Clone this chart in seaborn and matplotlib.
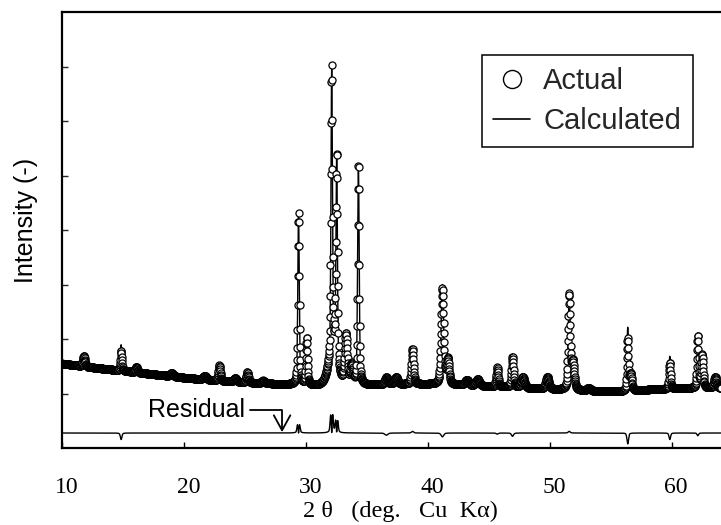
import numpy as np
import pandas as pd
import matplotlib
matplotlib.use("Agg")
import matplotlib.pyplot as plt
import matplotlib.transforms as mtransforms
import seaborn as sns
from matplotlib.lines import Line2D

# ---------------- data (intensity in kcounts) ----------------
bg_x = [10, 12, 14, 16, 18, 20, 22, 24, 26, 28, 30, 31, 35, 38, 40, 42, 44, 46, 48,
        50, 52, 54, 56, 58, 60, 62, 64.05]
bg_y = [1.55, 1.49, 1.44, 1.39, 1.34, 1.29, 1.25, 1.21, 1.19, 1.17, 1.15, 1.13, 1.15,
        1.17, 1.17, 1.16, 1.14, 1.12, 1.10, 1.08, 1.06, 1.04, 1.04, 1.07, 1.09, 1.10, 1.10]

peak_pos = [11.8, 14.85, 16.1, 19.0, 21.7, 22.9, 24.2, 25.2, 26.5, 29.4, 30.07,
            32.2, 32.12, 32.53, 33.29, 33.76, 34.31, 36.6, 37.4, 38.75, 41.2, 41.65,
            43.2, 44.1, 45.7, 46.95, 47.8, 49.8, 51.6, 51.9, 53.2, 56.4, 56.65,
            59.85, 62.15, 62.5, 63.57]
obs_height = [0.20, 0.36, 0.10, 0.06, 0.07, 0.28, 0.07, 0.19, 0.05, 3.15, 0.85,
              0.60, 5.25, 3.85, 0.90, 0.35, 4.05, 0.13, 0.13, 0.65, 1.75, 0.45,
              0.10, 0.12, 0.35, 0.55, 0.20, 0.22, 1.75, 0.50, 0.05, 0.95, 0.30,
              0.48, 0.95, 0.60, 0.20]
calc_height = [0.20, 0.48, 0.10, 0.06, 0.07, 0.28, 0.07, 0.19, 0.05, 3.15, 0.85,
               0.60, 5.25, 3.85, 0.90, 0.35, 4.05, 0.17, 0.13, 0.62, 1.82, 0.45,
               0.10, 0.12, 0.37, 0.61, 0.20, 0.22, 1.72, 0.50, 0.05, 1.15, 0.30,
               0.60, 1.00, 0.60, 0.20]
obs_fwhm = [0.20, 0.15, 0.20, 0.30, 0.30, 0.20, 0.30, 0.20, 0.30, 0.15, 0.15,
            0.80, 0.15, 0.15, 0.25, 0.25, 0.15, 0.30, 0.30, 0.20, 0.25, 0.25,
            0.35, 0.35, 0.20, 0.20, 0.30, 0.30, 0.20, 0.25, 0.35, 0.15, 0.20,
            0.15, 0.15, 0.20, 0.25]
calc_fwhm = [0.20, 0.15, 0.20, 0.30, 0.30, 0.20, 0.30, 0.20, 0.30, 0.139, 0.15,
             0.80, 0.136, 0.137, 0.25, 0.25, 0.15, 0.30, 0.30, 0.20, 0.25, 0.25,
             0.35, 0.35, 0.20, 0.20, 0.30, 0.30, 0.20, 0.25, 0.35, 0.15, 0.20,
             0.15, 0.15, 0.20, 0.25]
residual_offset = 0.275
x_ticks = [10, 20, 30, 40, 50, 60]
y_ticks = [1, 2, 3, 4, 5, 6, 7]

# ---------------- build profiles ----------------
two_theta = np.round(np.arange(10.0, 64.05, 0.02), 3)


def pseudo_voigt(x, pos, h, w, eta=0.4):
    g = np.exp(-4 * np.log(2) * ((x - pos) / w) ** 2)
    l = 1.0 / (1.0 + (2 * (x - pos) / w) ** 2)
    return h * ((1 - eta) * g + eta * l)


background = np.interp(two_theta, bg_x, bg_y)
observed = background.copy()
calculated = background.copy()
for p, ho, hc, wo, wc in zip(peak_pos, obs_height, calc_height, obs_fwhm, calc_fwhm):
    observed += pseudo_voigt(two_theta, p, ho, wo)
    calculated += pseudo_voigt(two_theta, p, hc, wc)
residual = observed - calculated + residual_offset

df = pd.DataFrame({"tt": two_theta, "obs": observed, "calc": calculated, "res": residual})

# ---------------- plot ----------------
sns.set_theme(style="white")
plt.rcParams["font.family"] = ["Liberation Sans", "DejaVu Sans"]

fig = plt.figure(figsize=(7.21, 5.25), dpi=100)
ax = fig.add_axes([62 / 721, 77 / 525, 659 / 721, 436 / 525])

sns.lineplot(data=df, x="tt", y="calc", ax=ax, color="black", lw=1.0,
             errorbar=None, sort=False, zorder=2)
sns.scatterplot(data=df, x="tt", y="obs", ax=ax, s=26, facecolor="white",
                edgecolor="black", linewidth=0.9, zorder=3)
sns.lineplot(data=df, x="tt", y="res", ax=ax, color="black", lw=1.0,
             errorbar=None, sort=False, zorder=2)

ax.set_xlim(10, 64.05)
ax.set_ylim(0, 8)
ax.set_xticks(x_ticks)
ax.set_yticks(y_ticks)
ax.set_yticklabels([])
ax.set_xticklabels([str(t) for t in x_ticks], family="Liberation Serif", fontsize=17)
ax.tick_params(axis="x", direction="in", length=4, width=1, pad=21, colors="black",
               bottom=True)
ax.tick_params(axis="y", direction="in", length=4, width=1, left=True)
shift = mtransforms.ScaledTranslation(4.5 / 100, 0, fig.dpi_scale_trans)
for lab in ax.get_xticklabels():
    lab.set_transform(lab.get_transform() + shift)

for side in ["left", "bottom", "top"]:
    ax.spines[side].set_visible(True)
    ax.spines[side].set_color("black")
    ax.spines[side].set_linewidth(1.6)
ax.spines["right"].set_visible(False)

ax.set_xlabel("2 θ   (deg.   Cu  Kα)", family="Liberation Serif", fontsize=17.5,
              color="black")
ax.xaxis.set_label_coords(0.513, -0.122)
ax.set_ylabel("Intensity (-)", fontsize=18, color="black")
ax.yaxis.set_label_coords(-0.036, 0.523)

ax.annotate("Residual", xy=(28.05, 0.29), xytext=(25.0, 0.70), ha="right",
            va="center", fontsize=18, color="black",
            arrowprops=dict(arrowstyle="->,head_length=0.6,head_width=0.33",
                            connectionstyle="angle,angleA=0,angleB=90,rad=0",
                            lw=1.3, color="black", shrinkA=1, shrinkB=0))

handles = [Line2D([], [], marker="o", ls="none", ms=13, mfc="white", mec="black", mew=1.0),
           Line2D([], [], color="black", lw=1.2)]
leg = ax.legend(handles, ["Actual", "Calculated"], loc="upper left",
                bbox_to_anchor=(0.637, 0.901), borderaxespad=0, fontsize=21,
                frameon=True, fancybox=False, framealpha=1, edgecolor="black",
                handlelength=1.25, handletextpad=0.45, labelspacing=0.42,
                borderpad=0.4)
leg.get_frame().set_linewidth(1.1)

fig.savefig("out.png", dpi=100)
